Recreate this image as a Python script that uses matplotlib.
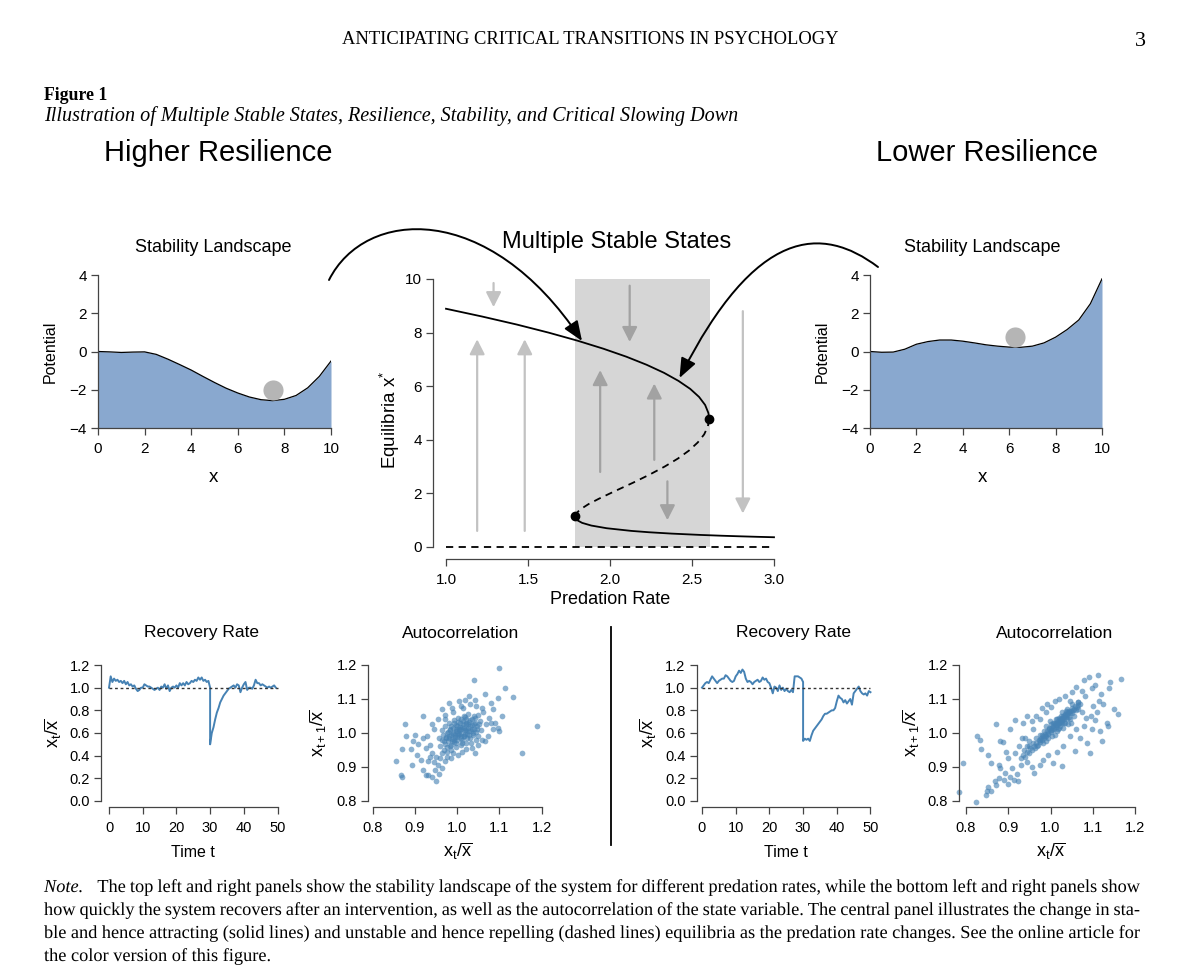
import numpy as np
import matplotlib
matplotlib.use('Agg')
import matplotlib.pyplot as plt
from matplotlib.patches import Rectangle, FancyArrowPatch, PathPatch
from matplotlib.path import Path
from matplotlib.lines import Line2D
from matplotlib.transforms import Affine2D
from matplotlib.textpath import TextPath, text_to_path
from matplotlib.font_manager import FontProperties

plt.rcParams['font.family'] = 'Liberation Sans'
plt.rcParams['mathtext.fontset'] = 'custom'
plt.rcParams['mathtext.rm'] = 'Liberation Sans'
plt.rcParams['mathtext.it'] = 'Liberation Sans:italic'

# ---- data ----
land_x = np.arange(0, 10.01, 0.5)
pot_high = [0.00, -0.02, -0.05, -0.03, -0.02, -0.15, -0.40, -0.68, -0.97, -1.30, -1.62,
            -1.92, -2.17, -2.38, -2.52, -2.57, -2.50, -2.30, -1.90, -1.30, -0.50]
pot_low = [0.00, -0.04, -0.03, 0.12, 0.38, 0.52, 0.60, 0.60, 0.54, 0.45, 0.35,
           0.28, 0.23, 0.22, 0.28, 0.45, 0.75, 1.15, 1.65, 2.50, 3.80]
ball_high = (7.5, -2.0)
ball_low = (6.26, 0.78)

# bifurcation diagram (predation rate, equilibrium)
upper_rate = [1.000, 1.220, 1.432, 1.625, 1.801, 1.959, 2.100, 2.223, 2.329, 2.417,
              2.489, 2.543, 2.580, 2.600, 2.604]
upper_x = [8.89, 8.60, 8.30, 8.00, 7.70, 7.40, 7.10, 6.80, 6.50, 6.20,
           5.90, 5.60, 5.30, 5.00, 4.78]
middle_rate = [2.604, 2.597, 2.574, 2.535, 2.482, 2.414, 2.333, 2.241, 2.141, 2.035,
               1.932, 1.869, 1.818, 1.794, 1.787]
middle_x = [4.78, 4.50, 4.20, 3.90, 3.60, 3.30, 3.00, 2.70, 2.40, 2.10,
            1.80, 1.60, 1.40, 1.25, 1.14]
lower_rate = [1.787, 1.800, 1.830, 1.886, 1.980, 2.131, 2.238, 2.375, 2.552, 2.683,
              2.784, 2.897, 3.000]
lower_x = [1.14, 1.00, 0.90, 0.80, 0.70, 0.60, 0.55, 0.50, 0.45, 0.42, 0.40, 0.38, 0.364]
fold_rate = [2.604, 1.787]
fold_x = [4.78, 1.14]
bistable = (1.787, 2.61)
flow_rate = [1.19, 1.48, 1.29, 2.12, 1.94, 2.27, 2.35, 2.81]
flow_from = [0.6, 0.6, 9.85, 9.75, 2.8, 3.25, 2.45, 8.8]
flow_to = [7.75, 7.75, 8.95, 7.65, 6.6, 6.1, 1.0, 1.25]

# recovery time series (pre / post perturbation at t=30)
rec_high_pre = [1.00, 1.10, 1.05, 1.08, 1.06, 1.07, 1.05, 1.06, 1.04, 1.06, 1.03, 1.05, 1.02,
                1.03, 1.01, 1.02, 0.99, 0.97, 0.98, 1.00, 1.00, 1.03, 1.02, 1.01, 1.01, 1.00,
                0.99, 0.98, 0.99, 1.00, 0.98, 1.01, 1.00, 1.03, 0.99, 1.02, 0.97, 1.00, 1.01,
                1.00, 1.02, 1.00, 1.04, 1.02, 1.04, 1.02, 1.05, 1.03, 1.04, 1.06, 1.05, 1.07,
                1.06, 1.09, 1.07, 1.09, 1.06, 1.07, 1.05, 1.06, 1.00]
rec_high_post = [0.50, 0.60, 0.65, 0.72, 0.78, 0.82, 0.87, 0.90, 0.93, 0.95, 0.97, 0.99, 1.00,
                 1.01, 1.02, 1.00, 1.03, 1.02, 0.96, 1.00, 1.03, 1.05, 0.98, 1.00, 1.00, 0.99,
                 1.02, 1.07, 1.04, 1.04, 1.02, 1.03, 1.02, 1.01, 1.00, 1.01, 1.00, 1.01, 1.02,
                 1.00]
rec_low_pre = [1.00, 1.02, 1.04, 1.05, 1.04, 1.07, 1.10, 1.08, 1.06, 1.04, 1.06, 1.07, 1.08,
               1.08, 1.11, 1.10, 1.08, 1.06, 1.05, 1.06, 1.10, 1.12, 1.15, 1.13, 1.16, 1.14,
               1.08, 1.05, 1.06, 1.05, 1.03, 1.05, 1.06, 1.07, 1.05, 1.06, 1.09, 1.07, 1.08,
               1.05, 1.04, 1.00, 0.95, 1.01, 1.00, 0.97, 1.02, 0.98, 1.00, 0.97, 0.99, 0.97,
               0.96, 0.98, 0.96, 1.10, 1.10, 1.10, 1.09, 1.08, 1.05]
rec_low_post = [0.53, 0.55, 0.54, 0.55, 0.53, 0.58, 0.62, 0.64, 0.66, 0.68, 0.70, 0.72, 0.75,
                0.77, 0.77, 0.78, 0.79, 0.80, 0.80, 0.82, 0.88, 0.93, 0.91, 0.90, 0.87, 0.89,
                0.86, 0.88, 0.90, 0.85, 0.95, 0.97, 0.99, 1.01, 0.97, 0.95, 0.94, 0.95, 0.93,
                0.97, 0.96]

# lag plots (x_t, x_t+1)
lag_high = [
    (1.100, 1.192), (1.040, 1.155), (1.113, 1.132), (1.131, 1.105), (1.190, 1.019), (1.154, 0.941),
    (0.876, 1.027), (0.855, 0.916), (0.866, 0.877), (0.870, 0.869), (0.951, 0.857), (0.918, 1.049),
    (0.980, 1.088), (1.066, 1.115), (1.097, 1.103), (0.925, 0.875), (0.932, 0.876), (0.940, 0.869),
    (0.918, 0.890), (0.893, 0.905), (0.869, 0.953), (0.900, 0.995), (0.908, 0.966), (0.891, 0.951),
    (0.940, 0.940), (1.081, 1.088), (1.085, 1.069), (1.105, 1.049), (1.097, 1.015), (1.100, 1.005),
    (1.074, 0.990), (1.058, 0.980), (1.042, 0.941), (1.022, 0.951), (1.002, 0.936), (0.971, 0.916),
    (0.963, 0.897), (0.931, 0.916), (0.919, 0.985), (0.940, 1.025), (0.963, 1.069), (0.987, 1.074),
    (1.018, 1.098), (1.042, 1.098), (1.014, 1.074), (1.058, 1.074), (1.050, 1.054), (0.971, 1.054),
    (1.085, 1.010), (1.069, 1.025), (0.925, 0.955), (0.935, 0.930), (0.945, 0.915), (0.950, 0.930),
    (0.955, 0.905), (0.960, 0.925), (0.948, 0.890), (0.958, 0.880), (0.965, 0.940), (0.975, 0.930),
    (0.985, 0.925), (0.935, 0.965), (0.928, 0.990), (0.945, 1.010), (0.955, 1.040), (0.972, 1.040),
    (0.990, 1.060), (1.010, 1.080), (1.030, 1.085), (1.045, 1.080), (1.062, 1.060), (1.075, 1.045),
    (1.080, 1.030), (1.065, 0.975), (1.050, 0.965), (1.035, 0.955), (1.012, 0.945), (0.990, 0.940),
    (1.090, 1.030), (1.028, 1.110), (1.005, 1.095), (0.905, 0.935), (0.915, 0.920), (0.880, 0.990),
    (0.895, 0.975),
    (0.960, 0.962), (0.963, 0.978), (0.966, 0.993), (0.968, 0.950), (0.971, 0.968), (0.973, 0.984),
    (0.975, 1.000), (0.977, 0.958), (0.979, 0.975), (0.981, 0.990), (0.983, 1.008), (0.985, 0.965),
    (0.987, 0.982), (0.989, 0.998), (0.990, 1.015), (0.992, 0.972), (0.994, 0.988), (0.996, 1.004),
    (0.998, 1.022), (1.000, 0.978), (1.002, 0.995), (1.004, 1.010), (1.006, 1.028), (1.008, 0.985),
    (1.010, 1.000), (1.012, 1.018), (1.014, 1.035), (1.016, 0.992), (1.018, 1.008), (1.020, 1.025),
    (1.022, 1.042), (1.024, 0.998), (1.026, 1.015), (1.028, 1.032), (1.030, 0.985), (1.032, 1.005),
    (1.034, 1.022), (1.036, 1.040), (1.038, 0.995), (1.040, 1.012), (1.042, 1.030), (1.045, 1.002),
    (1.048, 1.020), (1.050, 0.990), (1.053, 1.035), (1.056, 1.008), (0.958, 0.985), (0.965, 1.008),
    (0.970, 1.020), (0.980, 1.030), (0.992, 1.038), (1.003, 1.045), (1.015, 1.050), (1.025, 1.055),
    (1.040, 1.050), (0.975, 0.945), (0.985, 0.950), (0.997, 0.958), (1.008, 0.965), (1.020, 0.970),
    (1.032, 0.970), (1.044, 0.978), (0.990, 1.000), (1.000, 1.005), (1.005, 0.998), (1.010, 1.010),
    (0.995, 0.993), (1.015, 1.015), (1.020, 1.005), (0.985, 0.995), (1.025, 1.025), (1.000, 1.020),
    (1.010, 0.990), (0.980, 0.985), (1.030, 1.020), (0.997, 1.012), (1.018, 0.998), (0.992, 0.980),
    (1.006, 1.018), (1.022, 1.012),
    (0.978, 1.002), (0.984, 1.012), (0.988, 0.975), (0.993, 1.028), (0.999, 0.988), (1.003, 1.000),
    (1.007, 1.008), (1.011, 0.980), (1.013, 1.026), (1.017, 0.990), (1.021, 1.030), (1.023, 0.985),
    (1.027, 1.005), (1.031, 1.038), (1.035, 1.012), (1.039, 1.025), (1.043, 1.045), (1.047, 1.010),
    (1.052, 1.025), (0.969, 0.975), (0.974, 0.988), (0.982, 0.960), (0.996, 0.970), (1.009, 1.040),
    (1.019, 1.048), (1.029, 0.995), (1.037, 1.000), (1.001, 1.032), (0.986, 1.020), (1.012, 0.970)]
lag_low = [
    (0.824, 0.795), (0.794, 0.910), (0.825, 0.992), (0.833, 0.979), (0.835, 0.952), (0.784, 0.826),
    (0.849, 0.828), (0.853, 0.841), (0.869, 0.858), (0.877, 0.867), (0.853, 0.934), (0.859, 0.910),
    (0.877, 0.905), (0.880, 0.895), (0.892, 0.882), (0.908, 0.895), (0.900, 0.925), (0.880, 0.975),
    (0.888, 0.973), (0.870, 1.025), (0.904, 1.010), (0.944, 1.049), (0.916, 1.039), (0.936, 1.030),
    (0.959, 1.010), (0.979, 1.074), (0.991, 1.084), (1.011, 1.093), (1.080, 1.157), (1.092, 1.164),
    (1.113, 1.170), (1.167, 1.160), (1.099, 1.133), (1.138, 1.131), (1.074, 1.123), (1.082, 1.108),
    (1.114, 1.093), (1.125, 1.084), (1.151, 1.071), (1.159, 1.056), (1.133, 1.030), (1.136, 1.020),
    (1.105, 1.039), (1.117, 1.005), (1.121, 0.977), (1.093, 0.941), (1.087, 0.970), (1.058, 0.946),
    (1.028, 0.902), (1.007, 0.911), (0.983, 0.920), (0.962, 0.882), (0.922, 0.858), (0.914, 0.862),
    (0.900, 0.850), (1.066, 1.090), (1.098, 1.010), (1.110, 1.060), (1.070, 0.985),
    (0.932, 0.985), (0.944, 0.960), (0.955, 1.035), (0.965, 1.050), (0.975, 1.040), (0.990, 1.060),
    (1.000, 1.075), (1.020, 1.100), (1.035, 1.110), (1.050, 1.120), (1.060, 1.135), (1.045, 1.095),
    (1.065, 1.070), (1.075, 1.060), (1.085, 1.045), (1.095, 1.050), (1.080, 1.020), (1.060, 1.010),
    (1.045, 0.990), (1.030, 0.960), (1.015, 0.945), (0.995, 0.935), (0.975, 0.905), (0.955, 0.900),
    (0.945, 0.915), (0.930, 0.905), (0.920, 0.880), (0.905, 0.870), (0.890, 0.860), (0.870, 0.845),
    (0.860, 0.830), (0.848, 0.818), (0.915, 0.940), (0.925, 0.960), (0.940, 0.985), (0.950, 0.975),
    (0.895, 0.945), (1.100, 1.080), (1.120, 1.115), (1.140, 1.150), (1.105, 1.140),
    (0.930, 0.925), (0.935, 0.935), (0.940, 0.930), (0.945, 0.945), (0.950, 0.940), (0.952, 0.955),
    (0.957, 0.950), (0.960, 0.962), (0.963, 0.955), (0.966, 0.970), (0.970, 0.965), (0.972, 0.978),
    (0.975, 0.972), (0.978, 0.985), (0.980, 0.978), (0.983, 0.992), (0.985, 0.985), (0.988, 0.998),
    (0.990, 0.990), (0.992, 1.005), (0.995, 0.998), (0.997, 1.010), (1.000, 1.002), (1.002, 1.015),
    (1.004, 1.008), (1.006, 1.020), (1.008, 1.012), (1.010, 1.025), (1.012, 1.018), (1.014, 1.030),
    (1.016, 1.022), (1.018, 1.035), (1.020, 1.028), (1.022, 1.040), (1.024, 1.032), (1.026, 1.045),
    (1.028, 1.038), (1.030, 1.050), (1.032, 1.042), (1.034, 1.055), (1.036, 1.048), (1.038, 1.060),
    (1.040, 1.052), (1.043, 1.065), (1.046, 1.058), (1.050, 1.072), (1.054, 1.066), (1.058, 1.080),
    (1.062, 1.075), (1.066, 1.090), (1.070, 1.085), (0.985, 1.005), (0.995, 0.985), (1.005, 1.030),
    (1.015, 1.005), (1.025, 1.050), (1.035, 1.030), (1.045, 1.040), (0.975, 0.995), (0.965, 0.985),
    (1.000, 1.025), (1.010, 0.995), (1.020, 1.045), (1.030, 1.015), (1.040, 1.070), (1.048, 1.030),
    (0.990, 1.020), (1.003, 0.990), (1.018, 1.010), (1.028, 1.060), (0.958, 0.970), (0.948, 0.960),
    (0.938, 0.950), (1.055, 1.050), (1.042, 1.025), (1.012, 1.040), (0.998, 1.035), (1.022, 1.020),
    (1.032, 1.030), (0.982, 0.970),
    (0.968, 0.962), (0.976, 0.980), (0.986, 0.992), (0.994, 1.000), (1.001, 1.008), (1.007, 1.015),
    (1.013, 1.022), (1.019, 1.030), (1.023, 1.036), (1.027, 1.042), (1.031, 1.046), (1.035, 1.052),
    (1.039, 1.056), (1.044, 1.060), (1.048, 1.064), (1.052, 1.058), (1.056, 1.070), (1.060, 1.068),
    (1.016, 1.040), (1.026, 1.028), (1.036, 1.065), (1.044, 1.048), (1.008, 1.030), (0.996, 1.015),
    (0.980, 0.995), (1.050, 1.085), (1.064, 1.082), (1.040, 1.040), (1.020, 1.015), (0.990, 0.975)]

land_ticks = [0, 2, 4, 6, 8, 10]
pot_ticks = [-4, -2, 0, 2, 4]
rate_ticks = [1.0, 1.5, 2.0, 2.5, 3.0]
eq_ticks = [0, 2, 4, 6, 8, 10]
time_ticks = [0, 10, 20, 30, 40, 50]
ratio_ticks = [0.0, 0.2, 0.4, 0.6, 0.8, 1.0, 1.2]
lag_ticks = [0.8, 0.9, 1.0, 1.1, 1.2]

note_lines = [
    "The top left and right panels show the stability landscape of the system for different predation rates, while the bottom left and right panels show",
    "how quickly the system recovers after an intervention, as well as the autocorrelation of the state variable. The central panel illustrates the change in sta-",
    "ble and hence attracting (solid lines) and unstable and hence repelling (dashed lines) equilibria as the predation rate changes. See the online article for",
    "the color version of this figure.",
]

# ---- figure ----
W, H = 1200, 980
fig = plt.figure(figsize=(12, 9.8), dpi=100)
BLUE = '#4682b4'
FILL = '#89a8cf'
AXC = '#444444'


def axes_px(l, t, r, b):
    return fig.add_axes([l / W, 1 - b / H, (r - l) / W, (b - t) / H])


def ftext(x, y, s, **kw):
    kw.setdefault('ha', 'center')
    kw.setdefault('va', 'center')
    return fig.text(x / W, 1 - y / H, s, **kw)


def r_style(ax, xb, yb, fs):
    ax.spines[['top', 'right']].set_visible(False)
    ax.spines['left'].set_bounds(*yb)
    ax.spines['bottom'].set_bounds(*xb)
    for s in ['left', 'bottom']:
        ax.spines[s].set_color(AXC)
        ax.spines[s].set_linewidth(0.9)
    ax.tick_params(direction='out', length=5, width=0.9, color=AXC, labelsize=fs, pad=3)
    ax.tick_params(axis='x', pad=5)
    ax.patch.set_alpha(0)


# page header
ftext(590, 40, 'ANTICIPATING CRITICAL TRANSITIONS IN PSYCHOLOGY', family='Liberation Serif', fontsize=13.3)
ftext(1140, 41, '3', family='Liberation Serif', fontsize=16)
ftext(44, 95, 'Figure 1', family='Liberation Serif', fontsize=12.8, weight='bold', ha='left')
ftext(44, 116, 'Illustration of Multiple Stable States, Resilience, Stability, and Critical Slowing Down',
      family='Liberation Serif', fontsize=14.5, style='italic', ha='left')
ftext(104, 153, 'Higher Resilience', fontsize=21, ha='left')
ftext(876, 153, 'Lower Resilience', fontsize=21, ha='left')

# stability landscapes
for (l, r, pot, ball, cx) in [(98, 331, pot_high, ball_high, 213), (870, 1102, pot_low, ball_low, 982)]:
    ax = axes_px(l, 275, r, 428)
    ax.fill_between(land_x, -4, pot, color=FILL, lw=0)
    ax.plot(land_x, pot, color='black', lw=0.9)
    ax.plot(*ball, 'o', ms=14.5, color='#b5b5b5', mec='none', zorder=4, clip_on=False)
    ax.set_xlim(0, 10)
    ax.set_ylim(-4, 4)
    ax.set_xticks(land_ticks)
    ax.set_yticks(pot_ticks)
    r_style(ax, (0, 10), (-4, 4), 11)
    ftext(cx, 248, 'Stability Landscape', fontsize=13)
    ftext(l - 48, 352, 'Potential', fontsize=11.5, rotation=90)
    ftext(cx, 477, 'x', fontsize=13.5)

# central bifurcation panel
ax = axes_px(433, 272.3, 790.4, 559)
ax.set_xlim(0.9207, 3.1)
ax.set_ylim(-0.448, 10.25)
ax.add_patch(Rectangle((bistable[0], 0), bistable[1] - bistable[0], 10, color='#d6d6d6', lw=0, zorder=0))
for xr, y0, y1 in zip(flow_rate, flow_from, flow_to):
    inside = bistable[0] < xr < bistable[1]
    ax.annotate('', xy=(xr, y1), xytext=(xr, y0),
                arrowprops=dict(arrowstyle='-|>,head_length=0.75,head_width=0.38',
                                color='#a2a2a2' if inside else '#c2c2c2',
                                lw=1.6, shrinkA=0, shrinkB=0, mutation_scale=12))
ax.plot(upper_rate, upper_x, color='black', lw=1.3)
ax.plot(middle_rate, middle_x, color='black', lw=1.3, ls=(0, (4, 3)))
ax.plot(lower_rate, lower_x, color='black', lw=1.3)
ax.plot([1.0, 3.0], [0, 0], color='black', lw=1.3, ls=(0, (4, 3)))
ax.plot(fold_rate, fold_x, 'o', color='black', ms=6, zorder=5)
ax.set_xticks(rate_ticks, [f'{v:.1f}' for v in rate_ticks])
ax.set_yticks(eq_ticks)
r_style(ax, (1, 3), (0, 10), 11)
ftext(617, 242, 'Multiple Stable States', fontsize=17)
ftext(390, 420, r'Equilibria $\mathregular{x^{*}}$', fontsize=13.5, rotation=90)
ftext(610, 599, 'Predation Rate', fontsize=13)


# curved arrows linking panels (figure pixel coords)
def curve_arrow(pts):
    verts = [(x / W, 1 - y / H) for x, y in pts]
    path = Path(verts, [Path.MOVETO, Path.CURVE4, Path.CURVE4, Path.CURVE4])
    fig.add_artist(FancyArrowPatch(path=path, arrowstyle='-|>,head_length=0.75,head_width=0.3',
                                   mutation_scale=16, color='black', lw=1.4,
                                   transform=fig.transFigure))


curve_arrow([(329, 280), (365, 208), (488.5, 200), (582, 341)])
curve_arrow([(878, 267), (822, 225), (756, 226.7), (679.5, 378)])

# recovery panels
for (l, xmin, pre, post, cx, cy_lab) in [(101, -2.377, rec_high_pre, rec_high_post, 201, 53),
                                         (696.7, -1.571, rec_low_pre, rec_low_post, 794, 648)]:
    ax = axes_px(l, 659, l + (52.5 - xmin) * 3.37, 806.7)
    t_pre = 0.5 * np.arange(len(pre))
    t_post = 30 + 0.5 * np.arange(len(post))
    ax.plot(np.concatenate([t_pre, t_post]), np.concatenate([pre, post]), color=BLUE, lw=1.4)
    ax.plot([0, 50], [1, 1], color='#333333', lw=1, ls=(0, (2, 2)))
    ax.set_xlim(xmin, 52.5)
    ax.set_ylim(-0.0504, 1.253)
    ax.set_xticks(time_ticks)
    ax.set_yticks(ratio_ticks, [f'{v:.1f}' for v in ratio_ticks])
    r_style(ax, (0, 50), (0, 1.2), 10.5)
    ftext(cx, 633, 'Recovery Rate', fontsize=12.5)
    ftext(cy_lab, 733, r'$\mathregular{x_t/\overline{x}}$', fontsize=13, rotation=90)
    ftext(l + (25 - xmin) * 3.37, 852, 'Time t', fontsize=11.5)

# autocorrelation panels
for (l, xmin, pts, cx, cy_lab) in [(368.3, 0.7896, lag_high, 461, 318), (959.3, 0.7841, lag_low, 1055, 911)]:
    ax = axes_px(l, 659.9, l + (1.22 - xmin) * 422.5, 806.7)
    xs, ys = np.array(pts).T
    ax.scatter(xs, ys, s=17, color=BLUE, alpha=0.62, lw=0, clip_on=False)
    ax.set_xlim(xmin, 1.22)
    ax.set_ylim(0.7823, 1.215)
    ax.set_xticks(lag_ticks, [f'{v:.1f}' for v in lag_ticks])
    ax.set_yticks(lag_ticks, [f'{v:.1f}' for v in lag_ticks])
    r_style(ax, (0.8, 1.2), (0.8, 1.2), 10.5)
    ftext(cx, 633, 'Autocorrelation', fontsize=12.5)
    ftext(cy_lab, 733, r'$\mathregular{x_{t+1}/\overline{x}}$', fontsize=13, rotation=90)
    ftext(l + (1.0 - xmin) * 422.5, 851, r'$\mathregular{x_t/\overline{x}}$', fontsize=13)

# separator between the two bottom halves
fig.add_artist(Line2D([611 / W, 611 / W], [1 - 627 / H, 1 - 845 / H], color='black', lw=1.3))

# note, justified word by word; words drawn as outlines so every word sits on the same baseline
note_px = 13.2 * 100 / 72
for i, line in enumerate(note_lines):
    y = H - (892 + 23 * i)
    words = line.split(' ')
    styles = ['normal'] * len(words)
    if i == 0:
        words = ['Note.'] + words
        styles = ['italic'] + styles
    props = [FontProperties(family='Liberation Serif', style=st, size=note_px) for st in styles]
    widths = [text_to_path.get_text_width_height_descent(w, fp, ismath=False)[0]
              for w, fp in zip(words, props)]
    extra = 10 if i == 0 else 0
    if i < len(note_lines) - 1:
        gap = max(2.5, (1140 - 44 - extra - sum(widths)) / (len(words) - 1))
    else:
        gap = note_px * 0.25
    x = 44
    for k, (w, fp, wd) in enumerate(zip(words, props, widths)):
        tp = TextPath((0, 0), w, prop=fp)
        fig.add_artist(PathPatch(tp, transform=Affine2D().translate(x, y), color='black', lw=0))
        x += wd + gap + (extra if k == 0 else 0)

fig.savefig('out.png', dpi=100)
